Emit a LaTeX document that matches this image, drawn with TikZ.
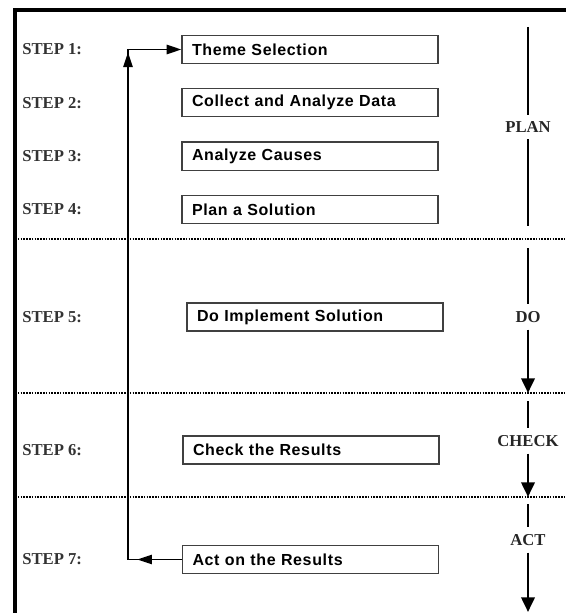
\documentclass[tikz,border=0pt]{standalone}
\usepackage{fontspec}
\setmainfont{Liberation Serif}
\newfontfamily\boxfont[LetterSpace=4]{Liberation Sans}
\usetikzlibrary{positioning, arrows.meta, decorations.markings}

\begin{document}
\begin{tikzpicture}[
  x=0.75pt, y=-0.75pt,
  stepbox/.style={rectangle, draw=black!75, line width=1pt, text width=177pt, inner xsep=7.5pt, minimum height=21pt, align=left, font=\boxfont\fontsize{12}{13}\selectfont\bfseries},
  steplbl/.style={anchor=west, inner xsep=0pt, font=\fontsize{12.5}{14}\selectfont\bfseries, text=black!80},
  phase/.style={inner sep=5pt, font=\fontsize{12.5}{14}\selectfont\bfseries, text=black!85},
  phaseline/.style={line width=2pt},
  phasearrow/.style={line width=2pt, -{Triangle[width=10pt, length=11pt]}},
  sep/.style={line width=1.6pt, dash pattern=on 1.2pt off 0.9pt},
  frame/.style={line width=2.3pt},
  feedback/.style={line width=1.2pt, -{Triangle[width=7pt, length=11pt]}, postaction={decorate},
    decoration={markings,
      mark=at position 33.4pt with {\arrow{Triangle[width=7pt, length=11pt]}},
      mark=at position 420.7pt with {\arrow{Triangle[width=7pt, length=11pt]}}}},
  node distance=18pt
]
\useasboundingbox (0,0) rectangle (566,613);

% ======================
% FRAME AND PHASE BORDERS
% ======================
\draw[frame] (15,613) -- (15,10) -- (566,10);
\draw[sep] (15,239) -- (566,239);
\draw[sep] (15,393) -- (566,393);
\draw[sep] (15,497) -- (566,497);

% ======================
% STEPS
% ======================
\coordinate (lblx) at (22,0);
\coordinate (fbx) at (128,0);

\node[stepbox] (theme) at (310,49.5) {Theme Selection};
\node[stepbox, below=of theme] (collect) {Collect and Analyze Data};
\node[stepbox, below=of collect] (causes) {Analyze Causes};
\node[stepbox, below=of causes] (solution) {Plan a Solution};
\node[stepbox] (implement) at (315,317) {Do Implement Solution};
\node[stepbox] (results) at (311,450) {Check the Results};
\node[stepbox] (act) at (310.5,559.5) {Act on the Results};

\node[steplbl] (s1) at (lblx |- theme) {STEP 1:};
\node[steplbl] (s2) at (lblx |- collect) {STEP 2:};
\node[steplbl] (s3) at (lblx |- causes) {STEP 3:};
\node[steplbl] (s4) at (lblx |- solution) {STEP 4:};
\node[steplbl] (s5) at (lblx |- implement) {STEP 5:};
\node[steplbl] (s6) at (lblx |- results) {STEP 6:};
\node[steplbl] (s7) at (lblx |- act) {STEP 7:};

% ======================
% PHASES
% ======================
\node[phase] (plan) at (528,127) {PLAN};
\node[phase] (do) at (528,317) {DO};
\node[phase] (check) at (528,441) {CHECK};
\node[phase] (actph) at (528,540) {ACT};

\draw[phaseline] (528,27) -- (plan.north);
\draw[phaseline] (plan.south) -- (528,226);
\draw[phaseline] (528,248) -- (do.north);
\draw[phasearrow] (do.south) -- (528,393);
\draw[phaseline] (528,401) -- (check.north);
\draw[phasearrow] (check.south) -- (528,497);
\draw[phaseline] (528,504) -- (actph.north);
\draw[phasearrow] (actph.south) -- (528,612);

% ======================
% FEEDBACK LOOP
% ======================
\draw[feedback] (act.west) -- (fbx |- act) -- (fbx |- theme) -- (theme.west);

\end{tikzpicture}
\end{document}
